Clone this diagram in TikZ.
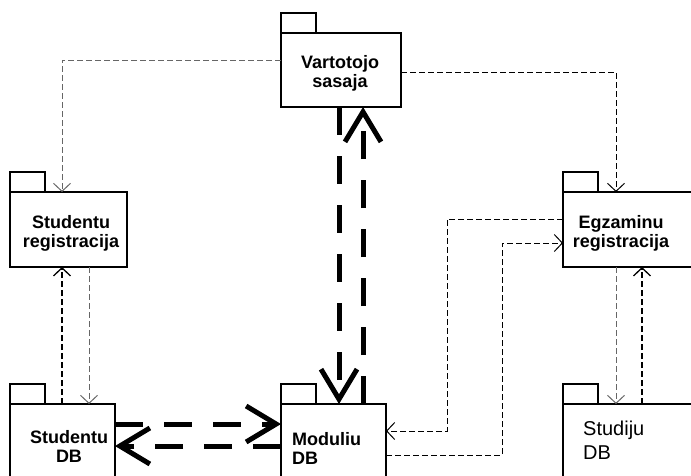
\documentclass[tikz,border=0pt]{standalone}
\usepackage{fontspec}
\setmainfont{Liberation Sans}
\usetikzlibrary{arrows.meta}
\begin{document}
\begin{tikzpicture}
[x=1pt,y=-1pt,
 pkg/.style={rectangle,draw=black,line width=1.4pt,fill=white,inner sep=0,outer sep=0},
 pkgtab/.style={pkg,minimum width=35pt,minimum height=20pt,anchor=south west},
 pkgname/.style={inner sep=0,anchor=north,align=center,font=\fontsize{18}{19}\selectfont\bfseries},
 dep/.style={line width=1pt,dash pattern=on 6pt off 3pt,-{Straight Barb[length=8pt,width=17pt]}},
 flow/.style={line width=5pt,dash pattern=on 28pt off 21pt,-{Straight Barb[length=30pt,width=36pt]}}]
\useasboundingbox (0,0) rectangle (691,475);
\clip (0,0) rectangle (691,475);
% packages
\node[pkg,minimum width=120pt,minimum height=74pt] (vs) at (341,70) {};
\node[pkg,minimum width=117pt,minimum height=75pt] (sr) at (68.5,229.5) {};
\node[pkg,minimum width=137pt,minimum height=75pt] (er) at (631.5,229.5) {};
\node[pkg,minimum width=105pt,minimum height=86pt] (sdb) at (62.5,447) {};
\node[pkg,minimum width=105pt,minimum height=86pt] (md) at (333.5,447) {};
\node[pkg,minimum width=137pt,minimum height=86pt] (stdb) at (631.5,447) {};
\foreach \p in {vs,sr,er,sdb,md,stdb}
{
  \node[pkgtab] (\p tab) at (\p.north west) {};
}
% names
\node[pkgname] (vsname) at (340,55) {Vartotojo\\sasaja};
\node[pkgname] (srname) at (71,215) {Studentu\\registracija};
\node[pkgname] (ername) at (621,215) {Egzaminu\\registracija};
\node[pkgname] (sdbname) at (69,430) {Studentu\\DB};
\node[pkgname,anchor=north west,align=left] (mdname) at (292,432) {Moduliu\\DB};
\node[pkgname,anchor=north west,align=left,font=\fontsize{20}{24}\selectfont] (stdbname) at (583,421) {Studiju\\DB};
% dependencies
\draw[dep,black!60] (vs.west |- 0,60) -| (sr.north -| 62,0);
\draw[dep] (vs.east |- 0,72) -| (er.north -| 616,0);
\draw[dep,line width=1.3pt] (sdb.north -| 62,0) -- (sr.south -| 62,0);
\draw[dep,black!60] (sr.south -| 89,0) -- (sdb.north -| 89,0);
\draw[dep,black!60] (er.south -| 616,0) -- (stdb.north -| 616,0);
\draw[dep,line width=1.3pt] (stdb.north -| 642,0) -- (er.south -| 642,0);
\draw[dep] (er.west |- 0,219) -| (447,431) -- (md.east |- 0,431);
\draw[dep] (md.east |- 0,455) -| (502,243) -- (er.west |- 0,243);
% thick flows
\draw[flow] (vs.south -| 339,0) -- (md.north -| 339,0);
\draw[flow] (md.north -| 363,0) -- (vs.south -| 363,0);
\draw[flow] (sdb.east |- 0,424) -- (md.west |- 0,424);
\draw[flow] (md.west |- 0,446) -- (sdb.east |- 0,446);
\end{tikzpicture}
\end{document}
